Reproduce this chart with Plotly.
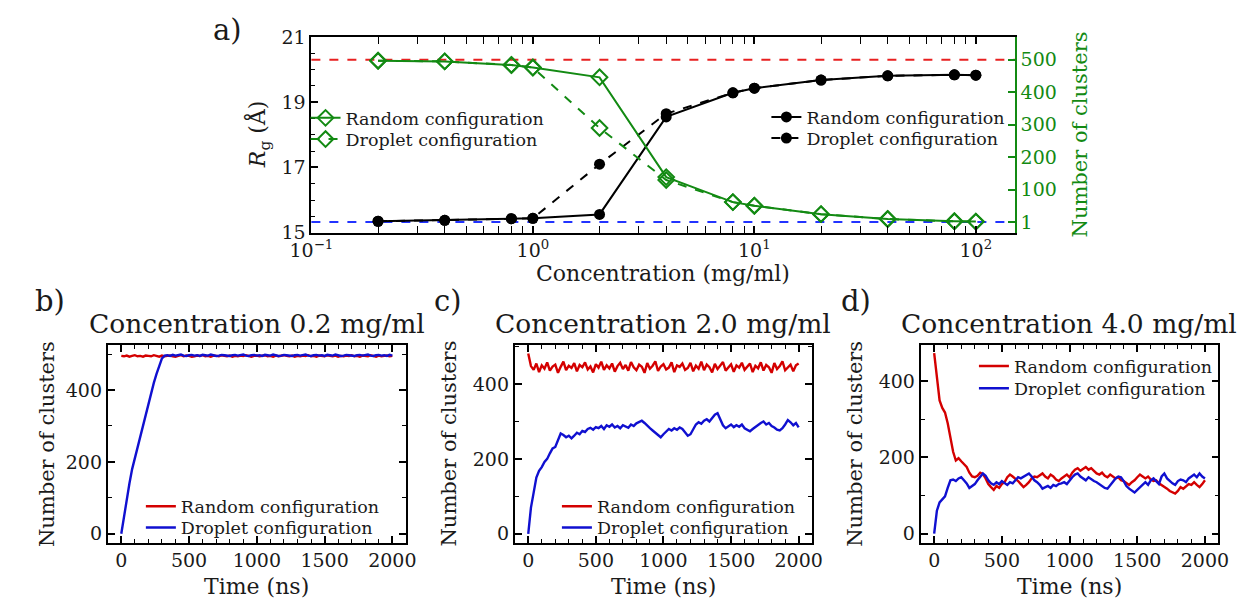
import plotly.graph_objects as go
import math

# ---------------- data: panel a ----------------
conc = [0.2, 0.4, 0.8, 1.0, 2.0, 4.0, 8.0, 10.0, 20.0, 40.0, 80.0, 100.0]
rg_random = [15.35, 15.38, 15.43, 15.44, 15.56, 18.55, 19.29, 19.43, 19.68, 19.81, 19.84, 19.83]
rg_droplet = [15.35, 15.38, 15.43, 15.44, 17.10, 18.65, 19.29, 19.43, 19.68, 19.81, 19.84, 19.83]
nc_random = [497, 495, 484, 476, 446, 139, 62, 51, 25, 10, 3, 2]
nc_droplet = [497, 495, 484, 476, 290, 130, 62, 51, 25, 10, 3, 2]
ref_max_clusters = 500
ref_min_clusters = 1

# ---------------- data: time series (0..2000 ns every 20 ns) ----------------
time_ns = list(range(0, 2001, 20))

b_random = [
    495, 494, 496, 493, 495, 497, 494, 495, 493, 496,
    495, 494, 497, 495, 493, 496, 494, 495, 496, 494,
    493, 495, 497, 494, 496, 495, 493, 494, 496, 495,
    497, 494, 495, 493, 496, 495, 494, 497, 495, 494,
    496, 493, 495, 494, 496, 495, 497, 494, 493, 495,
    496, 494, 495, 497, 494, 495, 493, 496, 494, 495,
    497, 495, 494, 496, 493, 495, 494, 496, 495, 497,
    494, 495, 493, 496, 495, 494, 497, 495, 494, 496,
    493, 495, 494, 496, 495, 497, 494, 495, 493, 496,
    495, 494, 497, 495, 493, 496, 494, 495, 496, 494,
    495]
b_droplet = [
    0, 50, 95, 140, 180, 210, 245, 275, 305, 335,
    365, 395, 420, 445, 468, 488, 496, 497, 495, 498,
    496, 497, 499, 496, 495, 497, 498, 496, 497, 495,
    498, 497, 496, 499, 497, 495, 496, 498, 497, 496,
    495, 497, 498, 496, 497, 499, 496, 495, 497, 498,
    496, 497, 495, 498, 497, 496, 499, 497, 495, 496,
    498, 497, 496, 495, 497, 498, 496, 497, 499, 496,
    495, 497, 498, 496, 497, 495, 498, 497, 496, 499,
    497, 495, 496, 498, 497, 496, 495, 497, 498, 496,
    497, 499, 496, 495, 497, 498, 496, 497, 495, 498,
    496]

c_random = [
    482, 448, 438, 455, 432, 450, 441, 458, 436, 447,
    452, 430, 446, 460, 437, 449, 443, 456, 434, 451,
    445, 458, 439, 447, 431, 453, 444, 460, 438, 450,
    442, 455, 433, 448, 457, 440, 451, 436, 459, 445,
    437, 452, 446, 430, 456, 441, 449, 461, 435, 447,
    453, 439, 444, 458, 432, 450, 446, 455, 438, 443,
    457, 434, 449, 441, 460, 437, 452, 445, 431, 454,
    440, 448, 459, 436, 446, 453, 433, 450, 444, 457,
    438, 447, 455, 432, 449, 442, 458, 436, 451, 445,
    430, 456, 440, 448, 461, 437, 446, 452, 434, 450,
    455]
c_droplet = [
    0, 70, 110, 150, 168, 178, 192, 200, 215, 228,
    232, 250, 268, 264, 258, 262, 255, 262, 270, 266,
    275, 272, 280, 283, 278, 285, 282, 288, 280, 290,
    286, 292, 284, 288, 282, 290, 286, 283, 292, 288,
    295, 298, 302, 296, 288, 282, 276, 270, 262, 258,
    266, 272, 280, 276, 282, 278, 284, 280, 272, 262,
    266, 280, 292, 298, 294, 302, 306, 300, 310, 318,
    322, 306, 290, 282, 288, 292, 285, 290, 286, 292,
    282, 278, 274, 280, 286, 290, 296, 300, 292, 296,
    288, 284, 278, 276, 282, 292, 304, 298, 290, 296,
    284]

d_random = [
    474, 405, 350, 330, 318, 290, 255, 215, 192, 198,
    190, 182, 175, 160, 150, 148, 152, 160, 156, 145,
    130, 122, 115, 125, 120, 130, 135, 148, 155, 150,
    145, 138, 130, 122, 128, 135, 145, 150, 148, 152,
    158, 150, 145, 155, 150, 142, 138, 145, 150, 155,
    148, 160, 168, 172, 165, 170, 175, 168, 172, 165,
    158, 155, 160, 152, 148, 155, 150, 145, 148, 140,
    138, 132, 128, 135, 140, 148, 155, 150, 145, 150,
    142, 138, 140, 132, 128, 122, 118, 112, 108, 105,
    112, 122, 118, 125, 130, 128, 135, 128, 122, 130,
    140]
d_droplet = [
    0, 60, 82, 90, 98, 120, 140, 142, 138, 145,
    148, 140, 132, 120, 125, 130, 140, 150, 158, 152,
    140, 132, 128, 135, 130, 138, 132, 128, 135, 132,
    140, 148, 145, 150, 155, 158, 150, 140, 135, 128,
    118, 122, 125, 120, 128, 125, 130, 132, 135, 130,
    140, 148, 155, 158, 150, 145, 140, 148, 142, 138,
    135, 130, 125, 120, 118, 128, 135, 145, 150, 148,
    138, 125, 118, 112, 108, 115, 122, 130, 135, 128,
    140, 145, 138, 130, 150, 158, 145, 138, 132, 128,
    138, 142, 140, 135, 145, 150, 155, 148, 158, 150,
    145]

panel_titles = ["Concentration 0.2 mg/ml", "Concentration 2.0 mg/ml", "Concentration 4.0 mg/ml"]
log_tickvals = [0.1, 1, 10, 100]
log_ticktext = ["10<sup>\u22121</sup>", "10<sup>0</sup>", "10<sup>1</sup>", "10<sup>2</sup>"]
log_minor = [0.2, 0.3, 0.4, 0.5, 0.6, 0.7, 0.8, 0.9, 2, 3, 4, 5, 6, 7, 8, 9,
             20, 30, 40, 50, 60, 70, 80, 90]

# ---------------- style ----------------
FONT = "DejaVu Serif"
TXT = "#1a1a1a"
GREEN = "#138a13"
RED_TS = "#d40000"
BLUE_TS = "#1010d0"
W, H = 1247, 608

fig = go.Figure()

# panel a: green (number of clusters, right axis)
fig.add_trace(go.Scatter(x=conc, y=nc_random, xaxis="x", yaxis="y2", mode="lines+markers",
                         name="Random configuration", legend="legend", showlegend=True,
                         line=dict(color=GREEN, width=2),
                         marker=dict(symbol="diamond-open", size=12, color=GREEN, line=dict(width=2, color=GREEN))))
fig.add_trace(go.Scatter(x=conc, y=nc_droplet, xaxis="x", yaxis="y2", mode="lines+markers",
                         name="Droplet configuration", legend="legend6", showlegend=True,
                         line=dict(color=GREEN, width=2, dash="dash"),
                         marker=dict(symbol="diamond-open", size=12, color=GREEN, line=dict(width=2, color=GREEN))))
# panel a: black (Rg, left axis)
fig.add_trace(go.Scatter(x=conc, y=rg_random, xaxis="x", yaxis="y", mode="lines+markers",
                         name="Random configuration", legend="legend2", showlegend=True,
                         line=dict(color="black", width=2),
                         marker=dict(symbol="circle", size=11, color="black")))
fig.add_trace(go.Scatter(x=conc, y=rg_droplet, xaxis="x", yaxis="y", mode="lines+markers",
                         name="Droplet configuration", legend="legend7", showlegend=True,
                         line=dict(color="black", width=2, dash="dash"),
                         marker=dict(symbol="circle", size=11, color="black")))

# panels b, c, d
series = [(b_random, b_droplet), (c_random, c_droplet), (d_random, d_droplet)]
for i, (rnd, drp) in enumerate(series):
    xa = f"x{i+2}"
    ya = f"y{i+3}"
    fig.add_trace(go.Scatter(x=time_ns, y=rnd, xaxis=xa, yaxis=ya, mode="lines",
                             name="Random configuration", legend=f"legend{i+3}", showlegend=True,
                             line=dict(color=RED_TS, width=2.4)))
    fig.add_trace(go.Scatter(x=time_ns, y=drp, xaxis=xa, yaxis=ya, mode="lines",
                             name="Droplet configuration", legend=f"legend{i+8}", showlegend=True,
                             line=dict(color=BLUE_TS, width=2.4)))

# reference dashed lines
fig.add_shape(type="line", xref="x domain", x0=0, x1=1, yref="y2",
              y0=ref_max_clusters, y1=ref_max_clusters, layer="below",
              line=dict(color="#e82020", width=2, dash="dash"))
fig.add_shape(type="line", xref="x domain", x0=0, x1=1, yref="y2",
              y0=ref_min_clusters, y1=ref_min_clusters, layer="below",
              line=dict(color="#2233ff", width=2, dash="dash"))

tickfont = dict(family=FONT, size=19, color=TXT)
common = dict(showline=True, linecolor="black", linewidth=1.8, ticks="inside",
              tickcolor="black", tickwidth=1.5, showgrid=False, zeroline=False,
              tickfont=tickfont)
minor_common = dict(ticks="inside", ticklen=4, tickwidth=1.2, tickcolor="black", showgrid=False)

def px_x(v):
    return v / W

def px_y(v):
    return 1 - v / H

layout = dict(
    width=W, height=H, margin=dict(l=0, r=0, t=0, b=0),
    plot_bgcolor="white", paper_bgcolor="white", showlegend=True,
    font=dict(family=FONT, color=TXT),
    xaxis=dict(domain=[px_x(297), px_x(1019)], type="log", anchor="y",
               range=[-1, math.log10(150)], tickvals=log_tickvals, ticktext=log_ticktext,
               ticklen=7, mirror="allticks",
               minor=dict(tickvals=log_minor, **minor_common),
               **common),
    yaxis=dict(domain=[px_y(230), px_y(27)], anchor="x", range=[15, 21],
               tickvals=[15, 17, 19, 21], ticklen=7, mirror=False,
               minor=dict(tickvals=[15.5, 16, 16.5, 17.5, 18, 18.5, 19.5, 20, 20.5], **minor_common),
               **common),
    yaxis2=dict(overlaying="y", anchor="x", side="right", range=[-32, 570],
                tickvals=[1, 100, 200, 300, 400, 500], showline=True, linecolor=GREEN,
                linewidth=1.8, ticks="inside", ticklen=7, tickwidth=1.5, tickcolor=GREEN,
                showgrid=False, zeroline=False,
                tickfont=dict(family=FONT, size=19, color=GREEN)),
)

bx = [(88, 394), (505.7, 811), (922.3, 1228)]
yranges = [[-25, 525], [-24, 504], [-24, 495]]
for i in range(3):
    xa = "xaxis" + str(i + 2)
    ya = "yaxis" + str(i + 3)
    layout[xa] = dict(domain=[px_x(bx[i][0]), px_x(bx[i][1])], anchor=f"y{i+3}",
                      range=[-100, 2100], tickvals=[0, 500, 1000, 1500, 2000],
                      ticklen=7, mirror="allticks",
                      minor=dict(tickvals=[100, 200, 300, 400, 600, 700, 800, 900,
                                           1100, 1200, 1300, 1400, 1600, 1700, 1800, 1900],
                                 **minor_common),
                      **common)
    layout[ya] = dict(domain=[px_y(551.7), px_y(346.7)], anchor=f"x{i+2}",
                      range=yranges[i], tickvals=[0, 200, 400], ticklen=7, mirror="allticks",
                      minor=dict(tickvals=[100, 300, 500], **minor_common),
                      **common)

legfont = dict(family=FONT, size=17.5, color=TXT)
leg_common = dict(bgcolor="rgba(0,0,0,0)", font=legfont, xanchor="left", yanchor="middle",
                  tracegroupgap=0, itemwidth=30, traceorder="normal", visible=True)
# one legend per entry: (left x px, anchor y px)
legend_pos = {
    "legend": (291, 111), "legend6": (291, 133),
    "legend2": (764, 110), "legend7": (764, 132),
    "legend3": (122, 514), "legend8": (122, 536),
    "legend4": (549, 514), "legend9": (549, 536),
    "legend5": (977, 368.5), "legend10": (977, 391.5),
}
for key, (lx, ly) in legend_pos.items():
    layout[key] = dict(x=px_x(lx), y=px_y(ly), **leg_common)

annotations = []

def ann(text, x, y, size, color=TXT, angle=0):
    annotations.append(dict(text=text, x=px_x(x), y=px_y(y), xref="paper", yref="paper",
                            xanchor="center", yanchor="middle", showarrow=False,
                            textangle=angle, font=dict(family=FONT, size=size, color=color)))

ann("a)", 211, 20, 29)
ann("b)", 29, 301, 29)
ann("c)", 437, 301, 29)
ann("d)", 856, 301, 29)
ann("Concentration (mg/ml)", 658, 272, 22)
ann("<i>R</i><sub>g</sub> (Å)", 243, 128, 22, angle=-90)
ann("Number of clusters", 1086, 128, 21, color=GREEN, angle=-90)
centers = [241, 658, 1075]
label_x = [25, 438, 855]
for i in range(3):
    ann(panel_titles[i], centers[i], 324, 26.5)
    ann("Time (ns)", centers[i], 597, 22)
    ann("Number of clusters", label_x[i], 449, 21, angle=-90)

layout["annotations"] = annotations
fig.update_layout(**layout)
fig.write_html("out.html")
